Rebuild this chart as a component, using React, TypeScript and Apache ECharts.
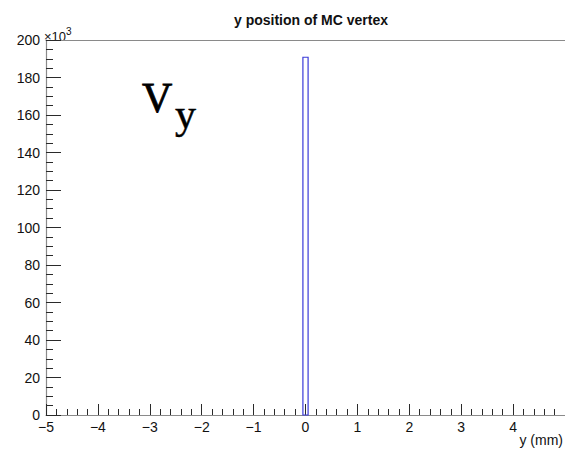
import React, { useEffect, useRef } from "react";
import * as echarts from "echarts";

// Histogram of the MC vertex y position: bins given by their edges (mm) and entries.
const binLow = [-0.05];
const binHigh = [0.05];
const binCounts = [190800];

const xTickMin = -5;
const xTickMax = 5;
const yTickMax = 200000;

const TITLE = "y position of MC vertex";
const X_TITLE = "y (mm)";

const SANS = "'Liberation Sans', Arial, Helvetica, sans-serif";
const SERIF = "'Liberation Serif', 'Times New Roman', serif";
const LINE_COLOR = "#8a8a8a";
const TICK_COLOR = "#2a2a2a";
const HIST_COLOR = "#3b3bd8";

export default function App() {
  const ref = useRef<HTMLDivElement>(null);

  useEffect(() => {
    document.body.style.margin = "0";
    document.body.style.overflow = "hidden";
    if (!ref.current) return;
    const chart = echarts.init(ref.current, null, { renderer: "svg" });

    const data = binLow.map((lo, i) => [lo, binHigh[i], binCounts[i]]);

    const fmtX = (v: number) => (v < 0 ? "\u2212" + Math.abs(v) : String(v));

    chart.setOption({
      animation: false,
      backgroundColor: "#ffffff",
      title: {
        text: TITLE,
        left: 306,
        top: 8,
        textAlign: "center",
        textStyle: { fontFamily: SANS, fontSize: 14, fontWeight: "bold", color: "#111" },
      },
      grid: { left: 46, top: 40, width: 522, height: 375 },
      xAxis: [
        {
          type: "value",
          min: xTickMin,
          max: xTickMax,
          interval: 1,
          position: "bottom",
          axisLine: { show: true, onZero: false, lineStyle: { color: LINE_COLOR, width: 1.2 } },
          axisTick: { show: true, inside: true, length: 11, lineStyle: { color: TICK_COLOR } },
          minorTick: { show: true, splitNumber: 5, length: 6, lineStyle: { color: TICK_COLOR } },
          splitLine: { show: false },
          axisLabel: {
            formatter: fmtX,
            margin: 5,
            fontFamily: SANS,
            fontSize: 14,
            color: "#111",
            showMaxLabel: false,
          },
        },
        {
          type: "value",
          min: xTickMin,
          max: xTickMax,
          position: "top",
          axisLine: { show: true, onZero: false, lineStyle: { color: LINE_COLOR, width: 1.2 } },
          axisTick: { show: false },
          axisLabel: { show: false },
          splitLine: { show: false },
        },
      ],
      yAxis: {
        type: "value",
        min: 0,
        max: yTickMax,
        interval: 20000,
        position: "left",
        axisLine: { show: true, onZero: false, lineStyle: { color: LINE_COLOR, width: 1.2 } },
        axisTick: { show: true, inside: true, length: 15, lineStyle: { color: TICK_COLOR } },
        minorTick: { show: true, splitNumber: 4, length: 7, lineStyle: { color: TICK_COLOR } },
        splitLine: { show: false },
        axisLabel: {
          formatter: (v: number) => String(v / 1000),
          margin: 6,
          fontFamily: SANS,
          fontSize: 14,
          color: "#111",
        },
      },
      series: [
        {
          type: "custom",
          xAxisIndex: 0,
          yAxisIndex: 0,
          encode: { x: [0, 1], y: 2 },
          data,
          renderItem: (_params: any, api: any) => {
            const top = api.coord([api.value(0), api.value(2)]);
            const bottom = api.coord([api.value(1), 0]);
            return {
              type: "rect",
              shape: {
                x: top[0],
                y: top[1],
                width: bottom[0] - top[0],
                height: bottom[1] - top[1],
              },
              style: { fill: "none", stroke: HIST_COLOR, lineWidth: 1.2 },
            };
          },
        },
      ],
      graphic: [
        {
          type: "text",
          x: 44,
          y: 26,
          style: {
            text: "{m|\u00d710}{s|3}",
            verticalAlign: "top",
            rich: {
              m: { fontFamily: SANS, fontSize: 13, fill: "#111", padding: [4, 0, 0, 0] },
              s: { fontFamily: SANS, fontSize: 10, fill: "#111", padding: [0, 0, 6, 0] },
            },
          },
        },
        {
          type: "text",
          x: 142,
          y: 119,
          style: {
            text: "V",
            fontFamily: SERIF,
            fontSize: 42,
            fill: "#000",
            stroke: "#000",
            lineWidth: 0.8,
            verticalAlign: "bottom",
          },
        },
        {
          type: "text",
          x: 175,
          y: 135,
          style: {
            text: "y",
            fontFamily: SERIF,
            fontSize: 42,
            fill: "#000",
            stroke: "#000",
            lineWidth: 0.5,
            verticalAlign: "bottom",
          },
        },
        {
          type: "text",
          x: 563,
          y: 433,
          style: {
            text: X_TITLE,
            fontFamily: SANS,
            fontSize: 14,
            fill: "#111",
            align: "right",
            verticalAlign: "top",
          },
        },
      ],
    });

    return () => chart.dispose();
  }, []);

  return <div ref={ref} style={{ width: 565, height: 451, overflow: "hidden" }} />;
}
